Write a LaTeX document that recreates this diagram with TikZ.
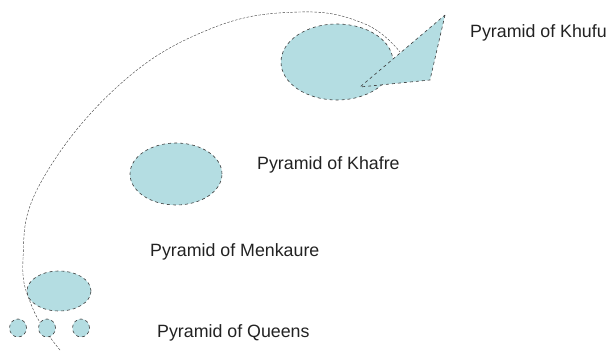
\documentclass[tikz,border=0pt]{standalone}
\usepackage{fontspec}
\setmainfont{Liberation Sans}
\usepackage{xcolor}
\usepackage{tikz}
\usetikzlibrary{arrows.meta,positioning,calc}
\definecolor{TombBlue}{HTML}{B4DDE2}
\definecolor{TombEdge}{HTML}{3A3A3A}
\definecolor{TombText}{HTML}{222222}

\tikzset{
  tomb/.style={fill=TombBlue,draw=TombEdge,dashed,semithick},
  route/.style={draw=TombEdge,thin,dash pattern=on 2.5pt off 1.5pt},
  tag/.style={anchor=west,inner sep=0pt,text=TombText,font=\fontsize{17.8}{20}\selectfont}
}

\begin{document}
\begin{tikzpicture}[x=1pt,y=1pt]
		\useasboundingbox (0,0) rectangle (610,354);
		\coordinate (start) at (60,4);
		\coordinate (stop) at (400,302);
		\draw[route] plot[smooth,tension=0.7] coordinates {(start) (33,45) (23,95) (40,170) (117,267) (210,325) (300,342) (365,330) (stop)};
		\draw[tomb] (337,292) ellipse (56 and 38);
		\draw[tomb] (445,339) -- (430,274) -- (360,267) -- cycle;
		\draw[tomb] (176,180) ellipse (46 and 31);
		\draw[tomb] (59,63) ellipse (32 and 20);
		\foreach \cx in {18,47,81}
			\draw[tomb] (\cx,26) ellipse (8.5 and 9);
		\node[tag] (khufu) at (470,321) {Pyramid of Khufu};
		\node[tag] (khafre) at (257,189) {Pyramid of Khafre};
		\node[tag] (menkaure) at (150,102) {Pyramid of Menkaure};
		\node[tag] (queens) at (157,21) {Pyramid of Queens};
	\end{tikzpicture}
\end{document}
